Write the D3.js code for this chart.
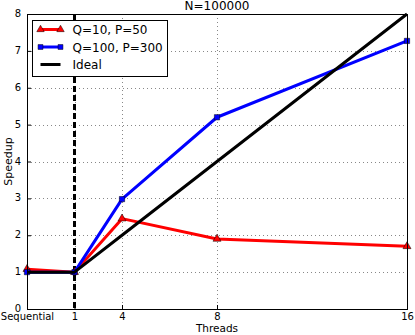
<!DOCTYPE html>
<html>
<head>
<meta charset="utf-8">
<script src="https://cdn.jsdelivr.net/npm/d3@7"></script>
<style>
  body { margin: 0; background: #fff; }
  text { font-family: 'DejaVu Sans', sans-serif; fill: #000; }
</style>
</head>
<body>
<svg class="chart"></svg>
<script>
// x positions of the thread counts (Sequential is drawn at 0)
let xLabels = ['Sequential', '1', '4', '8', '16'];
let xValues = [0, 2, 4, 8, 16];
let yTicks = [0, 1, 2, 3, 4, 5, 6, 7, 8];

let q10 = [1.08, 1.0, 2.45, 1.9, 1.7];
let q100 = [1.0, 1.0, 2.98, 5.2, 7.27];
let ideal = [1, 1, 2, 4, 8];

let width = 415;
let height = 335;
let margin = { top: 14, right: 8, bottom: 26, left: 27 };
let w = width - margin.left - margin.right;
let h = height - margin.top - margin.bottom;

let svg = d3.select('.chart').attr('width', width).attr('height', height);

let x = d3.scaleLinear().domain([0, 16]).range([0, w]);
let y = d3.scaleLinear().domain([0, 8]).range([h, 0]);

let g = svg.append('g').attr('transform', `translate(${margin.left}, ${margin.top})`);

// dotted grid
g.selectAll('.vgrid')
  .data(xValues)
  .enter()
  .append('line')
  .attr('x1', (d) => Math.round(x(d)) + 0.5)
  .attr('x2', (d) => Math.round(x(d)) + 0.5)
  .attr('y1', 0)
  .attr('y2', h)
  .attr('stroke', '#888')
  .attr('stroke-dasharray', '1,3');
g.selectAll('.hgrid')
  .data(yTicks)
  .enter()
  .append('line')
  .attr('x1', 0)
  .attr('x2', w)
  .attr('y1', (d) => Math.round(y(d)) + 0.5)
  .attr('y2', (d) => Math.round(y(d)) + 0.5)
  .attr('stroke', '#888')
  .attr('stroke-dasharray', '1,3');

// dashed line at 1 thread
g.append('line')
  .attr('x1', x(2))
  .attr('x2', x(2))
  .attr('y1', 0)
  .attr('y2', h)
  .attr('stroke', '#000')
  .attr('stroke-width', 3)
  .attr('stroke-dasharray', '6,3');

const line = d3
  .line()
  .x((d, i) => x(xValues[i]))
  .y((d) => y(d));

let series = [
  { name: 'Q=10, P=50', values: q10, color: '#ff0000', marker: 'triangle' },
  { name: 'Q=100, P=300', values: q100, color: '#0000ff', marker: 'square' },
  { name: 'Ideal', values: ideal, color: '#000000', marker: null },
];

series.forEach((s) => {
  g.append('path')
    .datum(s.values)
    .attr('fill', 'none')
    .attr('stroke', s.color)
    .attr('stroke-width', 3)
    .attr('stroke-linejoin', 'round')
    .attr('d', line);
  if (s.marker) {
    let sym = d3.symbol().type(s.marker === 'triangle' ? d3.symbolTriangle : d3.symbolSquare).size(28);
    g.selectAll('.m-' + s.marker)
      .data(s.values)
      .enter()
      .append('path')
      .attr('d', sym)
      .attr('transform', (d, i) => `translate(${x(xValues[i])}, ${y(d)})`)
      .attr('fill', s.color)
      .attr('stroke', '#000')
      .attr('stroke-width', 0.5);
  }
});

// frame
g.append('rect')
  .attr('x', 0.5)
  .attr('y', 0.5)
  .attr('width', w)
  .attr('height', h)
  .attr('fill', 'none')
  .attr('stroke', '#000')
  .attr('stroke-width', 1);

// axes with inward ticks
g.append('g')
  .attr('transform', `translate(0, ${h})`)
  .call(d3.axisBottom(x).tickValues(xValues).tickSize(-4).tickPadding(4).tickFormat((d, i) => xLabels[i]))
  .call((a) => a.select('.domain').remove())
  .selectAll('text')
  .style('font-size', '10px');
g.append('g')
  .call(d3.axisLeft(y).tickValues(yTicks).tickSize(-4).tickPadding(6).tickFormat(d3.format('d')))
  .call((a) => a.select('.domain').remove())
  .selectAll('text')
  .attr('dy', '0.25em')
  .style('font-size', '10px');

// title and axis labels
svg.append('text')
  .attr('x', margin.left + w / 2)
  .attr('y', 10)
  .attr('text-anchor', 'middle')
  .style('font-size', '12px')
  .text('N=100000');
svg.append('text')
  .attr('x', margin.left + w / 2)
  .attr('y', 332)
  .attr('text-anchor', 'middle')
  .style('font-size', '10.5px')
  .text('Threads');
svg.append('text')
  .attr('transform', `translate(12, ${margin.top + h / 2}) rotate(-90)`)
  .attr('text-anchor', 'middle')
  .style('font-size', '11px')
  .text('Speedup');

// legend
let legend = svg.append('g').attr('transform', 'translate(32.5, 20.5)');
legend.append('rect')
  .attr('width', 135)
  .attr('height', 56)
  .attr('fill', '#fff')
  .attr('stroke', '#000');
series.forEach((s, i) => {
  let ly = 9 + i * 17.5;
  legend.append('line')
    .attr('x1', 8)
    .attr('x2', 28)
    .attr('y1', ly)
    .attr('y2', ly)
    .attr('stroke', s.color)
    .attr('stroke-width', 3);
  if (s.marker) {
    let sym = d3.symbol().type(s.marker === 'triangle' ? d3.symbolTriangle : d3.symbolSquare).size(24);
    [8, 28].forEach((mx) => {
      legend.append('path')
        .attr('d', sym)
        .attr('transform', `translate(${mx}, ${ly})`)
        .attr('fill', s.color)
        .attr('stroke', '#000')
        .attr('stroke-width', 0.5);
    });
  }
  legend.append('text')
    .attr('x', 40)
    .attr('y', ly + 4.5)
    .style('font-size', '12px')
    .text(s.name);
});
</script>
</body>
</html>
